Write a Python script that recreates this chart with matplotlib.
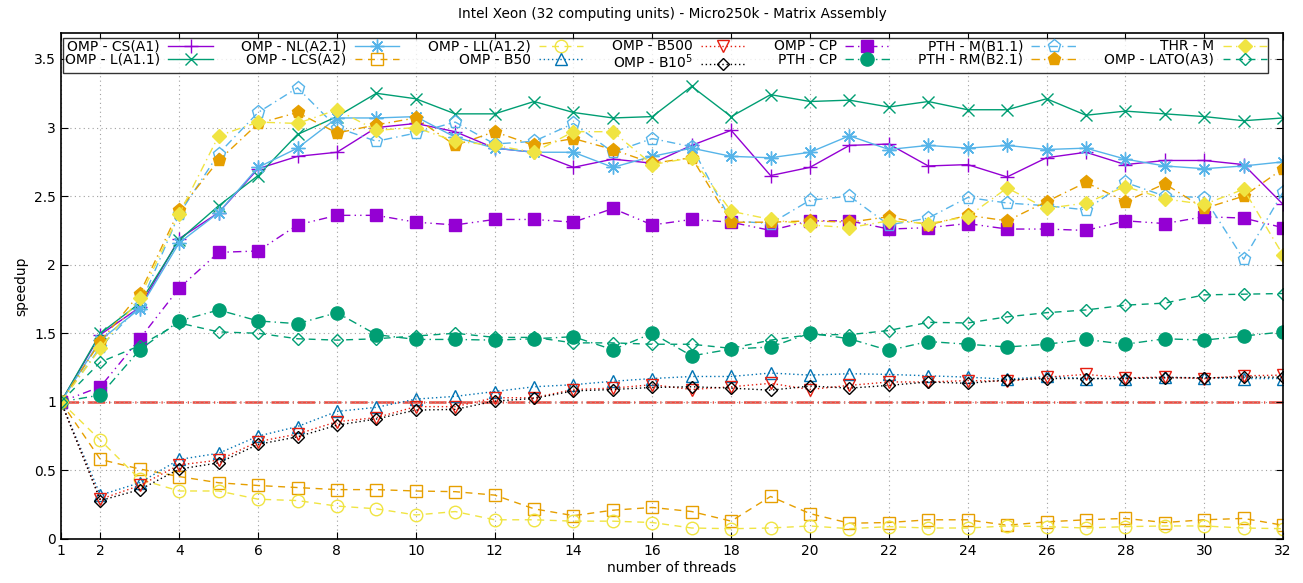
import numpy as np
import matplotlib.pyplot as plt

threads = list(range(1, 33))

cs_a1 = [1.0, 1.49, 1.69, 2.19, 2.38, 2.70, 2.79, 2.82, 3.00, 3.03, 2.97, 2.85, 2.82, 2.71, 2.77, 2.74,
         2.87, 2.98, 2.65, 2.71, 2.87, 2.88, 2.72, 2.73, 2.64, 2.78, 2.82, 2.73, 2.76, 2.76, 2.73, 2.44]
l_a11 = [1.0, 1.50, 1.72, 2.18, 2.43, 2.65, 2.95, 3.08, 3.25, 3.21, 3.10, 3.10, 3.19, 3.11, 3.07, 3.08,
         3.30, 3.08, 3.24, 3.19, 3.20, 3.15, 3.19, 3.13, 3.13, 3.21, 3.09, 3.12, 3.10, 3.08, 3.05, 3.07]
nl_a21 = [1.0, 1.45, 1.68, 2.16, 2.38, 2.71, 2.85, 3.07, 3.07, 3.08, 2.93, 2.85, 2.82, 2.82, 2.71, 2.79,
          2.85, 2.79, 2.78, 2.82, 2.94, 2.84, 2.87, 2.85, 2.87, 2.84, 2.85, 2.77, 2.72, 2.70, 2.72, 2.75]
lcs_a2 = [1.0, 0.58, 0.51, 0.455, 0.41, 0.39, 0.375, 0.36, 0.36, 0.35, 0.345, 0.32, 0.22, 0.17, 0.21, 0.23,
          0.20, 0.13, 0.31, 0.185, 0.115, 0.12, 0.14, 0.14, 0.10, 0.125, 0.14, 0.15, 0.12, 0.14, 0.15, 0.10]
ll_a12 = [1.0, 0.72, 0.435, 0.35, 0.35, 0.29, 0.28, 0.24, 0.22, 0.175, 0.20, 0.14, 0.14, 0.13, 0.13, 0.12,
          0.08, 0.075, 0.08, 0.095, 0.075, 0.09, 0.08, 0.08, 0.095, 0.09, 0.08, 0.09, 0.095, 0.095, 0.08, 0.075]
b50 = [1.0, 0.32, 0.41, 0.58, 0.625, 0.75, 0.82, 0.93, 0.96, 1.02, 1.04, 1.075, 1.11, 1.125, 1.15, 1.17,
       1.185, 1.185, 1.21, 1.195, 1.205, 1.20, 1.19, 1.18, 1.165, 1.185, 1.17, 1.17, 1.18, 1.175, 1.17, 1.17]
b500 = [1.0, 0.29, 0.39, 0.54, 0.575, 0.71, 0.765, 0.855, 0.885, 0.965, 0.965, 1.03, 1.03, 1.09, 1.10, 1.125,
        1.09, 1.11, 1.135, 1.09, 1.12, 1.145, 1.145, 1.155, 1.15, 1.18, 1.20, 1.175, 1.18, 1.17, 1.19, 1.195]
b1e5 = [1.0, 0.28, 0.36, 0.51, 0.555, 0.69, 0.745, 0.83, 0.875, 0.94, 0.945, 1.005, 1.025, 1.08, 1.09, 1.105,
        1.11, 1.10, 1.085, 1.115, 1.10, 1.12, 1.145, 1.135, 1.16, 1.17, 1.17, 1.17, 1.175, 1.175, 1.18, 1.18]
omp_cp = [1.0, 1.11, 1.46, 1.83, 2.09, 2.10, 2.29, 2.36, 2.36, 2.31, 2.29, 2.33, 2.33, 2.31, 2.41, 2.29,
          2.33, 2.31, 2.25, 2.32, 2.32, 2.26, 2.27, 2.30, 2.26, 2.26, 2.25, 2.32, 2.30, 2.35, 2.34, 2.27]
pth_cp = [1.0, 1.05, 1.38, 1.59, 1.67, 1.59, 1.57, 1.65, 1.49, 1.455, 1.455, 1.45, 1.46, 1.475, 1.38, 1.50,
          1.335, 1.385, 1.40, 1.50, 1.46, 1.375, 1.44, 1.42, 1.40, 1.42, 1.455, 1.42, 1.46, 1.45, 1.48, 1.51]
pth_m = [1.0, 1.40, 1.70, 2.37, 2.81, 3.11, 3.29, 3.00, 2.90, 2.96, 3.04, 2.88, 2.90, 3.03, 2.82, 2.92,
         2.86, 2.32, 2.30, 2.47, 2.50, 2.29, 2.34, 2.49, 2.45, 2.43, 2.40, 2.60, 2.50, 2.49, 2.04, 2.53]
pth_rm = [1.0, 1.44, 1.79, 2.40, 2.76, 3.03, 3.11, 2.96, 3.02, 3.07, 2.87, 2.97, 2.87, 2.92, 2.84, 2.74,
          2.78, 2.31, 2.31, 2.32, 2.31, 2.35, 2.29, 2.36, 2.32, 2.46, 2.60, 2.46, 2.59, 2.41, 2.50, 2.70]
thr_m = [1.0, 1.39, 1.76, 2.37, 2.94, 3.04, 3.03, 3.13, 2.98, 3.00, 2.90, 2.87, 2.82, 2.97, 2.97, 2.73,
         2.78, 2.39, 2.33, 2.29, 2.27, 2.32, 2.30, 2.35, 2.56, 2.41, 2.45, 2.57, 2.48, 2.44, 2.55, 2.07]
lato_a3 = [1.0, 1.29, 1.41, 1.575, 1.51, 1.50, 1.46, 1.45, 1.46, 1.48, 1.50, 1.47, 1.47, 1.43, 1.43, 1.42,
           1.42, 1.39, 1.45, 1.49, 1.49, 1.52, 1.58, 1.575, 1.62, 1.65, 1.67, 1.705, 1.72, 1.78, 1.785, 1.79]

labels = ['OMP - CS(A1)', 'OMP - L(A1.1)', 'OMP - NL(A2.1)', 'OMP - LCS(A2)', 'OMP - LL(A1.2)',
          'OMP - B50', 'OMP - B500', r'OMP - B10$^5$', 'OMP - CP', 'PTH - CP',
          'PTH - M(B1.1)', 'PTH - RM(B2.1)', 'THR - M', 'OMP - LATO(A3)']
series = [cs_a1, l_a11, nl_a21, lcs_a2, ll_a12, b50, b500, b1e5, omp_cp, pth_cp,
          pth_m, pth_rm, thr_m, lato_a3]

purple, green, lblue, orange = '#9400D3', '#009E73', '#56B4E9', '#E69F00'
yellow, blue, red = '#F0E442', '#0072B2', '#E51E10'
solid, dashed, dotted = '-', (0, (5, 4)), (0, (1, 2))
dashdot, dashdot2 = (0, (6, 3, 1, 3)), (0, (6, 3, 1, 3, 1, 3))
asterisk = (8, 2, 0)   # + and x together, like gnuplot pt 3

# (color, linestyle, marker, filled, markersize)
styles = [
    (purple, solid, '+', False, 10),
    (green, solid, 'x', False, 9),
    (lblue, solid, asterisk, False, 10),
    (orange, dashed, 's', False, 9),
    (yellow, dashed, 'o', False, 9),
    (blue, dotted, '^', False, 9),
    (red, dotted, 'v', False, 9),
    ('black', dotted, 'D', False, 6.5),
    (purple, dashdot2, 's', True, 9),
    (green, dashdot, 'o', True, 9.5),
    (lblue, dashdot, 'p', False, 9.5),
    (orange, dashdot, 'p', True, 9.5),
    (yellow, dashdot, 'D', True, 7.5),
    (green, dashed, 'D', False, 6.5),
]

fig = plt.figure(figsize=(13.03, 5.83), dpi=100)
ax = fig.add_axes([0.0468, 0.0755, 0.9379, 0.868])

# speedup = 1 reference line
ax.plot(threads, [1.0] * len(threads), color=red, lw=1.8, alpha=0.8,
        ls=(0, (7, 1.5, 0.5, 1.5)), zorder=1)

for y, lab, (c, ls, m, filled, ms) in zip(series, labels, styles):
    ax.plot(threads, y, color=c, ls=ls, lw=1, marker=m, ms=ms, mew=1,
            mfc=c if filled else 'none', mec=c, label=lab)

ax.set_xlim(1, 32)
ax.set_ylim(0, 3.69)
ax.set_xticks([1] + list(range(2, 33, 2)))
ax.set_yticks(np.arange(0, 3.51, 0.5))
ax.set_yticklabels(['0', '0.5', '1', '1.5', '2', '2.5', '3', '3.5'])
ax.tick_params(direction='in', top=True, right=True, labelsize=10, length=5)
ax.grid(True, color='#a0a0a0', ls=(0, (1, 3)), lw=0.8)
for s in ax.spines.values():
    s.set_linewidth(1.2)

ax.set_title('Intel Xeon (32 computing units) - Micro250k - Matrix Assembly', fontsize=9.8, pad=11)
ax.set_xlabel('number of threads', fontsize=10, labelpad=2)
ax.set_ylabel('speedup', fontsize=10, labelpad=4)

leg = ax.legend(loc='upper center', ncol=7, markerfirst=False, fontsize=10, frameon=True,
                fancybox=False, edgecolor='black', handlelength=3.2, columnspacing=2.05,
                borderpad=0.1, labelspacing=-0.05, handletextpad=0.6, handleheight=0.6,
                borderaxespad=0, bbox_to_anchor=(0.495, 0.99))
leg.get_frame().set_linewidth(1.0)

fig.savefig('out.png', dpi=100)
